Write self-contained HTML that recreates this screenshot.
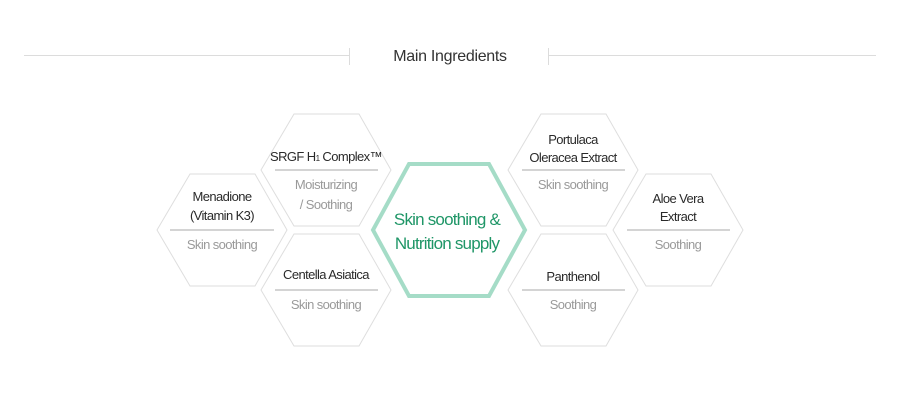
<!DOCTYPE html>
<html><head><meta charset="utf-8"><style>
html,body{margin:0;padding:0;background:#fff;}
svg{display:block;}
text{font-family:"Liberation Sans",sans-serif;letter-spacing:-0.6px;}
.t{fill:#2a2a2a;font-size:13px;}
.s{fill:#9a9a9a;font-size:13px;}
.h{fill:none;stroke:#dedede;stroke-width:1;}
.d{stroke:#d4d4d4;stroke-width:2;}
</style></head><body>
<svg width="899" height="404" viewBox="0 0 899 404">
<line x1="24" y1="55.5" x2="349" y2="55.5" stroke="#dcdcdc"/>
<line x1="548" y1="55.5" x2="876" y2="55.5" stroke="#dcdcdc"/>
<line x1="349.5" y1="48" x2="349.5" y2="65" stroke="#dcdcdc"/>
<line x1="548.5" y1="48" x2="548.5" y2="65" stroke="#dcdcdc"/>
<text x="450" y="61" text-anchor="middle" style="font-size:16px;fill:#333;letter-spacing:-0.3px">Main Ingredients</text>

<!-- small hexes: width 130, half height 56 -->
<g class="h">
<polygon points="157,230 190,174 255,174 287,230 255,286 190,286"/>
<polygon points="261,170 294,114 359,114 391,170 359,226 294,226"/>
<polygon points="261,290 294,234 359,234 391,290 359,346 294,346"/>
<polygon points="508,170 541,114 606,114 638,170 606,226 541,226"/>
<polygon points="508,290 541,234 606,234 638,290 606,346 541,346"/>
<polygon points="613,230 646,174 711,174 743,230 711,286 646,286"/>
</g>
<polygon points="373,230 409,164 489,164 525,230 489,296 409,296" fill="#fff" stroke="#a5dcc7" stroke-width="4"/>
<text x="447" y="225" text-anchor="middle" style="font-size:17px;fill:#1f9667;letter-spacing:-0.8px">Skin soothing &amp;</text>
<text x="447" y="249" text-anchor="middle" style="font-size:17px;fill:#1f9667;letter-spacing:-0.8px">Nutrition supply</text>

<!-- Menadione -->
<text class="t" x="222" y="201" text-anchor="middle">Menadione</text>
<text class="t" x="222" y="220" text-anchor="middle">(Vitamin K3)</text>
<line class="d" x1="170" y1="230" x2="274" y2="230"/>
<text class="s" x="222" y="249" text-anchor="middle">Skin soothing</text>
<!-- SRGF -->
<text class="t" x="326" y="161" text-anchor="middle">SRGF H<tspan style="font-size:8px">1</tspan> Complex™</text>
<line class="d" x1="275" y1="170" x2="378" y2="170"/>
<text class="s" x="326" y="189" text-anchor="middle">Moisturizing</text>
<text class="s" x="326" y="209" text-anchor="middle">/ Soothing</text>
<!-- Centella -->
<text class="t" x="326" y="279" text-anchor="middle">Centella Asiatica</text>
<line class="d" x1="275" y1="290" x2="378" y2="290"/>
<text class="s" x="326" y="309" text-anchor="middle">Skin soothing</text>
<!-- Portulaca -->
<text class="t" x="573" y="144" text-anchor="middle">Portulaca</text>
<text class="t" x="573" y="162" text-anchor="middle">Oleracea Extract</text>
<line class="d" x1="522" y1="170" x2="625" y2="170"/>
<text class="s" x="573" y="189" text-anchor="middle">Skin soothing</text>
<!-- Panthenol -->
<text class="t" x="573" y="281" text-anchor="middle">Panthenol</text>
<line class="d" x1="522" y1="290" x2="625" y2="290"/>
<text class="s" x="573" y="309" text-anchor="middle">Soothing</text>
<!-- Aloe -->
<text class="t" x="678" y="203" text-anchor="middle">Aloe Vera</text>
<text class="t" x="678" y="221" text-anchor="middle">Extract</text>
<line class="d" x1="627" y1="230" x2="730" y2="230"/>
<text class="s" x="678" y="249" text-anchor="middle">Soothing</text>
</svg>
</body></html>
